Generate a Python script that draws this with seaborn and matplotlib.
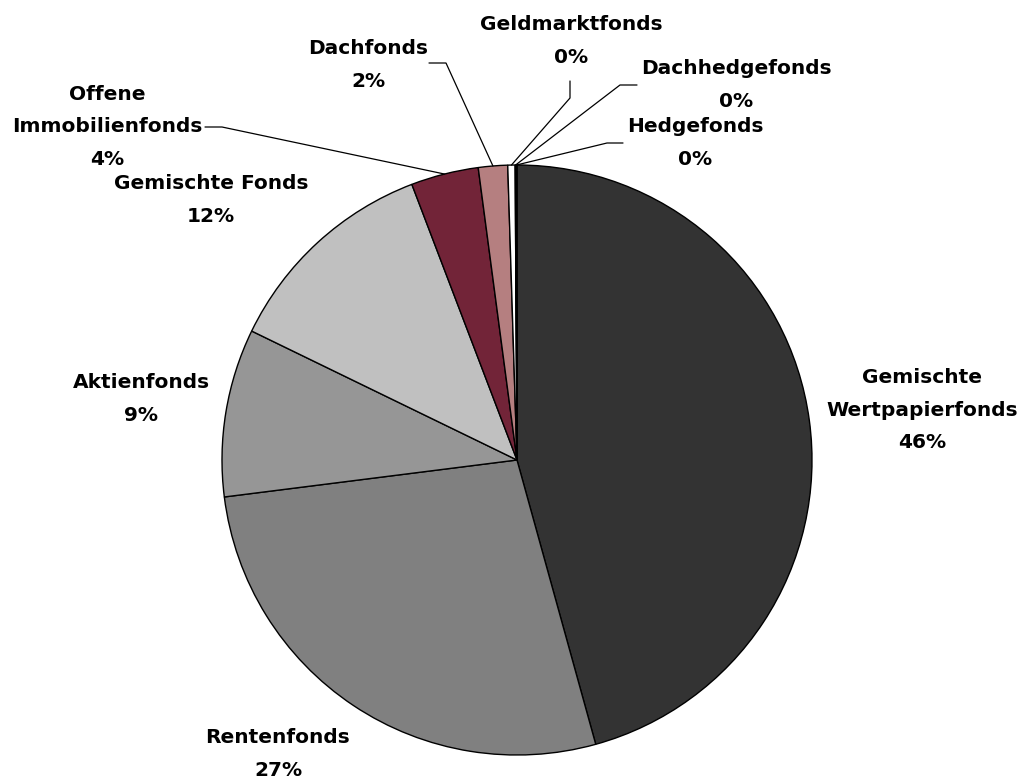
import matplotlib
matplotlib.use("Agg")
from matplotlib import pyplot as plt
import seaborn as sns
import numpy as np

categories = ["Gemischte\nWertpapierfonds", "Rentenfonds", "Aktienfonds", "Gemischte Fonds",
              "Offene\nImmobilienfonds", "Dachfonds", "Geldmarktfonds", "Dachhedgefonds", "Hedgefonds"]
shares = [45.7, 27.3, 9.2, 12.0, 3.7, 1.6, 0.4, 0.05, 0.05]
colors = ["#333333", "#808080", "#969696", "#c0c0c0", "#722438", "#b57f80", "#ffffff", "#ffffff", "#ffffff"]

# pixel layout of the reference: pie centre and radius
cx, cy, rad = 517, 460, 295
W, H = 1023, 780

def to_data(px, py):
    return (px - cx) / rad, (cy - py) / rad

# label centres (pixels) and leader elbows/ends (pixels), None = no leader
label_pos = [(922, 410), (278, 754), (141, 399), (211, 200), (107, 127),
             (368, 65), (571, 41), (736, 85), (695, 143)]
leaders = [None, None, None, None,
           [(222, 127), (205, 127)],
           [(446, 63), (429, 63)],
           [(570, 98), (570, 81)],
           [(620, 85), (637, 85)],
           [(607, 143), (623, 143)]]

sns.set_theme(style="white")
plt.rcParams["font.family"] = ["DejaVu Sans"]

fig = plt.figure(figsize=(W / 100, H / 100), dpi=100)
ax = fig.add_axes([0, 0, 1, 1])

wedges, _ = ax.pie(shares, colors=colors, startangle=90, counterclock=False,
                   wedgeprops=dict(edgecolor="black", linewidth=1.0))

for w, name, val, pos, ld in zip(wedges, categories, shares, label_pos, leaders):
    x, y = to_data(*pos)
    ax.text(x, y, f"{name}\n{int(round(val))}%", ha="center", va="center",
            fontsize=14.5, fontweight="bold", color="black", linespacing=1.9)
    if ld is not None:
        mid = np.deg2rad((w.theta1 + w.theta2) / 2)
        pts = [(np.cos(mid), np.sin(mid))] + [to_data(*p) for p in ld]
        xs, ys = zip(*pts)
        ax.plot(xs, ys, color="black", linewidth=0.9)

ax.set_xlim(-cx / rad, (W - cx) / rad)
ax.set_ylim((cy - H) / rad, cy / rad)
ax.set_aspect("auto")
ax.axis("off")

fig.savefig("out.png", dpi=100)
